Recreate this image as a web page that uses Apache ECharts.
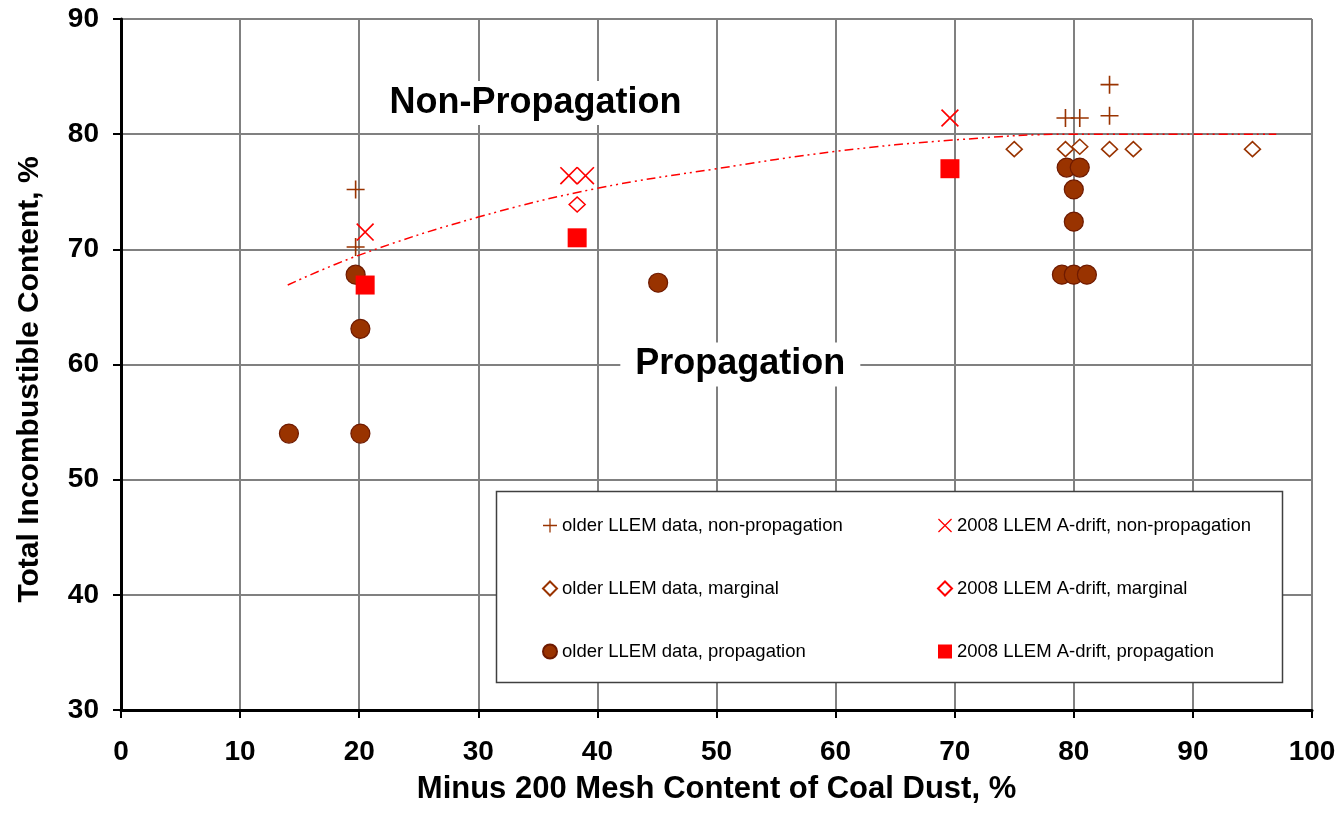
<!DOCTYPE html>
<html>
<head>
<meta charset="utf-8">
<script src="https://cdn.jsdelivr.net/npm/echarts@6/dist/echarts.min.js"></script>
<style>html,body{margin:0;padding:0;background:#fff}#c{width:1343px;height:814px}</style>
</head>
<body>
<div id="c"></div>
<script>
// ---- data ----
var xTicks = [0, 10, 20, 30, 40, 50, 60, 70, 80, 90, 100];
var yTicks = [30, 40, 50, 60, 70, 80, 90];

var olderNonProp = [[19.7, 75.2], [19.7, 70.2], [79.3, 81.4], [80.5, 81.4], [83.0, 81.6], [83.0, 84.3]];
var a2008NonProp = [[20.5, 71.5], [37.6, 76.4], [39.0, 76.4], [69.6, 81.4]];
var olderMarginal = [[75.0, 78.7], [79.3, 78.7], [80.5, 78.9], [83.0, 78.7], [85.0, 78.7], [95.0, 78.7]];
var a2008Marginal = [[38.3, 73.9]];
var olderProp = [[14.1, 54.0], [20.1, 54.0], [20.1, 63.1], [19.7, 67.8], [45.1, 67.1],
                 [79.4, 77.1], [80.5, 77.1], [80.0, 75.2], [80.0, 72.4],
                 [79.0, 67.8], [80.0, 67.8], [81.1, 67.8]];
var a2008Prop = [[20.5, 66.9], [38.3, 71.0], [69.6, 77.0]];
var trendLine = [[14.0, 66.9], [20, 69.5], [30, 72.8], [40, 75.3], [50, 77.0], [60, 78.5],
                 [70, 79.5], [80, 80.0], [90, 80.0], [97, 80.0]];
var annotations = [
  {text: 'Non-Propagation', pos: [34.8, 82.7]},
  {text: 'Propagation', pos: [52.0, 60.0]}
];
var names = {
  oNP: 'older LLEM data, non-propagation',
  aNP: '2008 LLEM A-drift, non-propagation',
  oM: 'older LLEM data, marginal',
  aM: '2008 LLEM A-drift, marginal',
  oP: 'older LLEM data, propagation',
  aP: '2008 LLEM A-drift, propagation'
};

var BROWN = '#993300', RED = '#ff0000';
var PLUS = 'path://M0,9.1H20V10.9H0Z M9.1,0H10.9V20H9.1Z';
var CROSS = 'path://M0,1.3L1.3,0L20,18.7L18.7,20Z M18.7,0L20,1.3L1.3,20L0,18.7Z';
var FONT = '"Liberation Sans", Arial, sans-serif';

var chart = echarts.init(document.getElementById('c'), null, {renderer: 'canvas'});

var axisCommon = {
  type: 'value',
  interval: 10,
  axisLine: {show: true, lineStyle: {color: '#000', width: 3}},
  axisTick: {show: true, inside: false, length: 8, lineStyle: {color: '#000', width: 2}},
  splitLine: {show: true, lineStyle: {color: '#808080', width: 2}},
  axisLabel: {color: '#000', fontSize: 28, fontWeight: 'bold', fontFamily: FONT},
  nameLocation: 'middle',
  nameTextStyle: {color: '#000', fontSize: 31, fontWeight: 'bold', fontFamily: FONT}
};

var annoSeries = annotations.map(function (a) {
  return {
    type: 'scatter', name: '_anno_' + a.text, data: [a.pos], symbolSize: 0, silent: true, z: 6,
    itemStyle: {opacity: 1},
    label: {
      show: true, position: 'inside', formatter: a.text, color: '#000',
      fontSize: 36, fontWeight: 'bold', fontFamily: FONT,
      backgroundColor: '#fff', padding: [4, 15, 4, 15]
    }
  };
});

var legendCommon = {
  orient: 'vertical', top: 511, itemGap: 44, itemWidth: 14, itemHeight: 14,
  selectedMode: false, z: 10,
  textStyle: {color: '#000', fontSize: 18.5, fontFamily: FONT}
};

function sc(name, data, symbol, size, style) {
  return {type: 'scatter', name: name, data: data, symbol: symbol, symbolSize: size, z: 4,
          itemStyle: Object.assign({opacity: 1}, style)};
}

chart.setOption({
  animation: false,
  backgroundColor: '#fff',
  grid: {left: 121, right: 31, top: 19, bottom: 104, containLabel: false},
  xAxis: Object.assign({}, axisCommon, {
    min: xTicks[0], max: xTicks[xTicks.length - 1],
    axisLabel: Object.assign({}, axisCommon.axisLabel, {margin: 28}),
    name: 'Minus 200 Mesh Content of Coal Dust, %', nameGap: 64
  }),
  yAxis: Object.assign({}, axisCommon, {
    min: yTicks[0], max: yTicks[yTicks.length - 1],
    axisLabel: Object.assign({}, axisCommon.axisLabel, {margin: 22}),
    name: 'Total Incombustible Content, %', nameGap: 76,
    nameTextStyle: Object.assign({}, axisCommon.nameTextStyle, {fontSize: 30, padding: [0, 30, 0, 0]})
  }),
  legend: [
    Object.assign({}, legendCommon, {left: 537, data: [names.oNP, names.oM, names.oP]}),
    Object.assign({}, legendCommon, {left: 932, data: [names.aNP, names.aM, names.aP]})
  ],
  graphic: [{
    type: 'rect', z: 8, silent: true,
    shape: {x: 496.5, y: 491.5, width: 786, height: 191},
    style: {fill: '#fff', stroke: '#404040', lineWidth: 1.5}
  }],
  series: [
    {type: 'line', name: '_trend', data: trendLine, smooth: 0.4, showSymbol: false, silent: true, z: 3,
     lineStyle: {color: RED, width: 1.5, type: [9, 4, 2, 4, 2, 4]}},
    sc(names.oNP, olderNonProp, PLUS, 18, {color: BROWN}),
    sc(names.aNP, a2008NonProp, CROSS, 18, {color: RED}),
    sc(names.oM, olderMarginal, 'diamond', [16, 15], {color: '#fff', borderColor: BROWN, borderWidth: 1.5}),
    sc(names.aM, a2008Marginal, 'diamond', [16, 15], {color: '#fff', borderColor: RED, borderWidth: 1.5}),
    sc(names.oP, olderProp, 'circle', 19, {color: BROWN, borderColor: '#6e1a00', borderWidth: 1.2}),
    sc(names.aP, a2008Prop, 'rect', 19, {color: RED})
  ].concat(annoSeries)
});
</script>
</body>
</html>
